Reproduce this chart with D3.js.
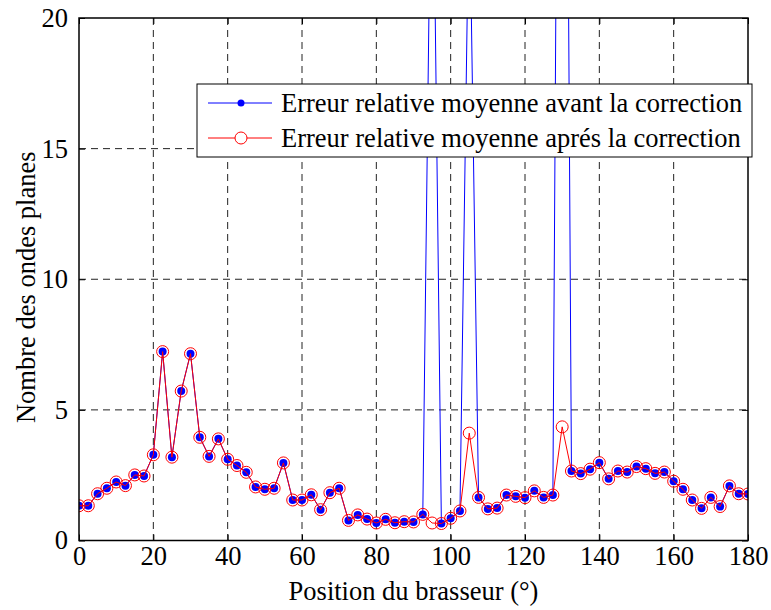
<!DOCTYPE html>
<html><head><meta charset="utf-8">
<script src="https://cdn.jsdelivr.net/npm/d3@7"></script>
<style>body{margin:0;background:#fff}svg{display:block}</style>
</head><body>
<script>
const positions = d3.range(0, 180.01, 2.5);
const avant = [1.33,1.33,1.79,2.0,2.24,2.1,2.51,2.47,3.28,7.23,3.19,5.72,7.15,3.95,3.22,3.89,3.11,2.87,2.61,2.05,1.96,2.0,2.97,1.55,1.55,1.75,1.18,1.83,2.0,0.77,0.98,0.82,0.67,0.81,0.68,0.72,0.71,1.0,30,0.65,0.85,1.13,25.5,1.65,1.21,1.24,1.74,1.69,1.64,1.9,1.65,1.74,60,2.66,2.56,2.73,2.98,2.36,2.66,2.62,2.83,2.75,2.57,2.62,2.27,1.96,1.55,1.23,1.65,1.3,2.09,1.79,1.78];
const apres = [1.33,1.33,1.79,2.0,2.24,2.1,2.51,2.47,3.28,7.23,3.19,5.72,7.15,3.95,3.22,3.89,3.11,2.87,2.61,2.05,1.96,2.0,2.97,1.55,1.55,1.75,1.18,1.83,2.0,0.77,0.98,0.82,0.67,0.81,0.68,0.72,0.71,1.0,0.67,0.65,0.85,1.13,4.11,1.65,1.21,1.24,1.74,1.69,1.64,1.9,1.65,1.74,4.35,2.66,2.56,2.73,2.98,2.36,2.66,2.62,2.83,2.75,2.57,2.62,2.27,1.96,1.55,1.23,1.65,1.3,2.09,1.79,1.78];
const xTicks = [0,20,40,60,80,100,120,140,160,180];
const yTicks = [0,5,10,15,20];
const legendLabels = ["Erreur relative moyenne avant la correction","Erreur relative moyenne aprés la correction"];
const xLabel = "Position du brasseur (°)";
const yLabel = "Nombre des ondes planes";

const FONT = "'Liberation Serif'";
const W = 771, H = 610;
const L = 79, R = 748, T = 18, B = 540.5;
const svg = d3.select("body").append("svg").attr("width", W).attr("height", H)
  .style("font-family", FONT);
const x = d3.scaleLinear().domain([0,180]).range([L,R]);
const y = d3.scaleLinear().domain([0,20]).range([B,T]);

// grid
const g = svg.append("g");
g.selectAll(".gx").data(xTicks.slice(1,-1)).enter().append("line")
  .attr("x1", d=>x(d)).attr("x2", d=>x(d)).attr("y1", T).attr("y2", B)
  .attr("stroke","#222").attr("stroke-width",1).attr("stroke-dasharray","7,5");
g.selectAll(".gy").data(yTicks.slice(1,-1)).enter().append("line")
  .attr("y1", d=>y(d)).attr("y2", d=>y(d)).attr("x1", L).attr("x2", R)
  .attr("stroke","#222").attr("stroke-width",1).attr("stroke-dasharray","7,5");

svg.append("defs").append("clipPath").attr("id","clip").append("rect")
  .attr("x",L).attr("y",T).attr("width",R-L).attr("height",B-T);

const line = d3.line().x((d,i)=>x(positions[i])).y(d=>y(d));
const plot = svg.append("g").attr("clip-path","url(#clip)");
plot.append("path").datum(avant).attr("d",line).attr("fill","none").attr("stroke","#0000ff").attr("stroke-width",1);
plot.selectAll(".db").data(avant).enter().append("circle")
  .attr("cx",(d,i)=>x(positions[i])).attr("cy",d=>y(d)).attr("r",4).attr("fill","#0000ff");
plot.append("path").datum(apres).attr("d",line).attr("fill","none").attr("stroke","#ff0000").attr("stroke-width",1);
plot.selectAll(".dr").data(apres).enter().append("circle")
  .attr("cx",(d,i)=>x(positions[i])).attr("cy",d=>y(d)).attr("r",6).attr("fill","none").attr("stroke","#ff0000").attr("stroke-width",1);

// axes
const fs = 26.5;
const styleText = s => s.selectAll("text").style("font-family", FONT).style("font-size", fs+"px").attr("fill","#000");
const ax = svg.append("g");
ax.append("g").attr("transform",`translate(0,${B})`)
  .call(d3.axisBottom(x).tickValues(xTicks).tickSize(-6).tickPadding(6).tickFormat(d3.format("d")))
  .call(s=>{s.select(".domain").remove(); styleText(s);});
ax.append("g").attr("transform",`translate(0,${T})`)
  .call(d3.axisTop(x).tickValues(xTicks).tickSize(-6).tickFormat(""))
  .call(s=>s.select(".domain").remove());
ax.append("g").attr("transform",`translate(${L},0)`)
  .call(d3.axisLeft(y).tickValues(yTicks).tickSize(-6).tickPadding(11).tickFormat(d3.format("d")))
  .call(s=>{s.select(".domain").remove(); styleText(s);});
ax.append("g").attr("transform",`translate(${R},0)`)
  .call(d3.axisRight(y).tickValues(yTicks).tickSize(-6).tickFormat(""))
  .call(s=>s.select(".domain").remove());
ax.selectAll(".tick line").attr("stroke","#000");
svg.append("rect").attr("x",L).attr("y",T).attr("width",R-L).attr("height",B-T)
  .attr("fill","none").attr("stroke","#000").attr("stroke-width",1.5);

svg.append("text").attr("x",(L+R)/2).attr("y",600).attr("text-anchor","middle")
  .style("font-family",FONT).style("font-size",fs+"px").text(xLabel);
svg.append("text").attr("transform",`translate(35,${(T+B)/2 + 8}) rotate(-90)`).attr("text-anchor","middle")
  .style("font-family",FONT).style("font-size",fs+"px").text(yLabel);

// legend
const lg = svg.append("g");
lg.append("rect").attr("x",197).attr("y",84).attr("width",555).attr("height",73)
  .attr("fill","#fff").attr("stroke","#000").attr("stroke-width",1);
const colors = ["#0000ff","#ff0000"];
legendLabels.forEach((t,i)=>{
  const yy = 103 + i*35;
  lg.append("line").attr("x1",208).attr("x2",272).attr("y1",yy).attr("y2",yy).attr("stroke",colors[i]).attr("stroke-width",1);
  if(i===0) lg.append("circle").attr("cx",241).attr("cy",yy).attr("r",3.5).attr("fill",colors[i]);
  else lg.append("circle").attr("cx",241).attr("cy",yy).attr("r",6).attr("fill","#fff").attr("stroke",colors[i]);
  lg.append("text").attr("x",281).attr("y",yy+9)
    .style("font-family",FONT).style("font-size",fs+"px").text(t);
});
</script>
</body></html>
